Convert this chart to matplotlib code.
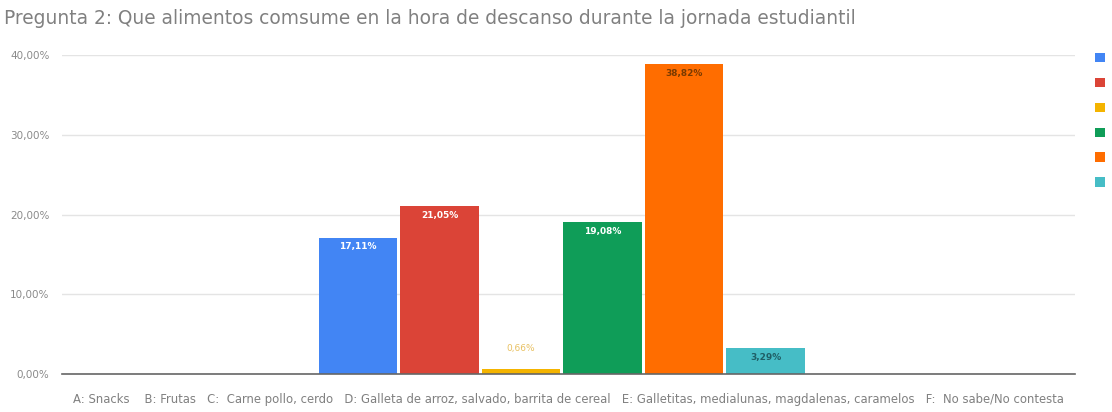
import numpy as np
from matplotlib import pyplot as plt
from matplotlib.patches import Patch

plt.rcParams['font.family'] = ['DejaVu Sans']

# survey answers (one group, six series)
series = ['A', 'B', 'C', 'D', 'E', 'F']
values = [17.11, 21.05, 0.66, 19.08, 38.82, 3.29]
colors = ['#4285F4', '#DB4437', '#F4B400', '#0F9D58', '#FF6D00', '#46BDC6']
label_colors = ['white', 'white', '#E8C060', 'white', '#7A3A00', '#1F5F66']
yticks = [0, 10, 20, 30, 40]
title = 'Pregunta 2: Que alimentos comsume en la hora de descanso durante la jornada estudiantil'
category = ('A: Snacks    B: Frutas   C:  Carne pollo, cerdo   D: Galleta de arroz, salvado, barrita de cereal   '
            'E: Galletitas, medialunas, magdalenas, caramelos   F:  No sabe/No contesta')

fig = plt.figure(figsize=(11.12, 4.12), dpi=100)
ax = fig.add_axes([0.0558, 0.0922, 0.9112, 0.7743])

x = np.arange(len(values))
ax.bar(x, values, width=0.96, color=colors, zorder=3)

for xi, v, lc in zip(x, values, label_colors):
    txt = f'{v:.2f}%'.replace('.', ',')
    if v > 2:
        ax.text(xi, v - 0.6, txt, ha='center', va='top',
                fontsize=6.5, color=lc, fontweight='bold', zorder=4)
    else:
        ax.text(xi, v + 2.0, txt, ha='center', va='bottom',
                fontsize=6.5, color=lc, zorder=4)

ax.set_xlim(-3.63, 8.8)
ax.set_ylim(0, 40)
ax.set_yticks(yticks)
ax.set_yticklabels([f'{t:.2f}%'.replace('.', ',') for t in yticks], fontsize=7.5, color='#8a8a8a')
ax.tick_params(axis='y', length=0, pad=9)
ax.set_xticks([])
ax.grid(axis='y', color='#e4e4e4', linewidth=1, zorder=0)
ax.axhline(0, color='#666666', linewidth=1.2, zorder=5, clip_on=False)
for s in ax.spines.values():
    s.set_visible(False)

ax.set_xlabel(category, fontsize=8.4, color='#808080', labelpad=14)
fig.text(0.004, 0.955, title, fontsize=13.4, color='#808080', ha='left', va='center')

handles = [Patch(facecolor=c) for c in colors]
fig.legend(handles, [''] * len(colors), loc='upper left', bbox_to_anchor=(0.9795, 0.885),
           frameon=False, handlelength=0.9, handleheight=0.9, labelspacing=1.3,
           handletextpad=0, borderpad=0, fontsize=8)

plt.savefig('out.png', dpi=100)
